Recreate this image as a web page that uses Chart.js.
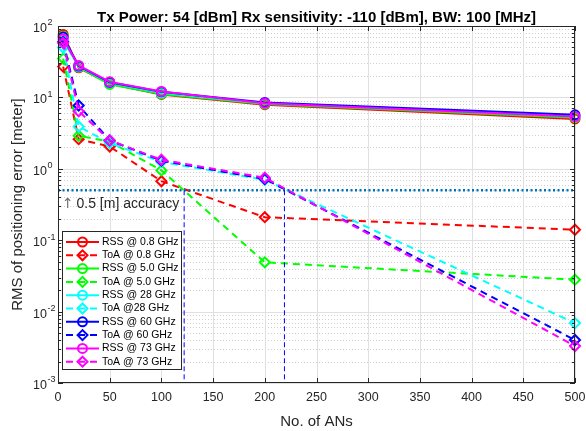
<!DOCTYPE html>
<html><head><meta charset="utf-8">
<script src="https://cdn.jsdelivr.net/npm/chart.js@4.4.1/dist/chart.umd.min.js"></script>
<style>html,body{margin:0;padding:0;background:#fff;}</style>
</head><body>
<canvas id="c" width="586" height="431"></canvas>
<script>
// ---- data ----
const nodes = [5, 20, 50, 100, 200, 500];
const rss08 = [76, 26, 15.5, 11.0, 7.9, 5.0];
const toa08 = [27, 2.6, 2.05, 0.67, 0.21, 0.14];
const rss50 = [72, 26.5, 15.2, 11.2, 8.1, 5.2];
const toa50 = [35, 2.9, 2.4, 0.95, 0.049, 0.028];
const rss28 = [62, 27, 16, 11.6, 8.3, 5.4];
const toa28 = [50, 3.9, 2.3, 1.25, 0.70, 0.0069];
const rss60 = [70, 27.5, 16.3, 12.0, 8.5, 5.7];
const toa60 = [60, 7.7, 2.5, 1.30, 0.72, 0.0040];
const rss73 = [66, 28, 16.5, 12.1, 8.3, 5.4];
const toa73 = [58, 6.4, 2.5, 1.34, 0.75, 0.0033];
const seriesLabels = ['RSS @ 0.8 GHz','ToA @ 0.8 GHz','RSS @ 5.0 GHz','ToA @ 5.0 GHz','RSS @ 28 GHz','ToA @28 GHz','RSS @ 60 GHz','ToA @ 60 GHz','RSS @ 73 GHz','ToA @ 73 GHz'];
const accuracyLevel = 0.5;
const crossX = [122, 219];
const xTicks = [0,50,100,150,200,250,300,350,400,450,500];
const yExponents = [-3,-2,-1,0,1,2];
const titleText = 'Tx Power: 54 [dBm] Rx sensitivity: -110 [dBm], BW: 100 [MHz]';
const xTitle = 'No. of ANs';
const yTitle = 'RMS of positioning error [meter]';
const noteText = '0.5 [m] accuracy';

const colors = ['#FF0000','#FF0000','#00FF00','#00FF00','#00FFFF','#00FFFF','#0000FF','#0000FF','#FF00FF','#FF00FF'];
const allSeries = [rss08,toa08,rss50,toa50,rss28,toa28,rss60,toa60,rss73,toa73];

const datasets = allSeries.map((arr, i) => {
  const solid = i % 2 === 0;
  return {
    label: seriesLabels[i],
    data: nodes.map((n, k) => ({x: n, y: arr[k]})),
    borderColor: colors[i], backgroundColor: 'rgba(0,0,0,0)',
    borderWidth: 2, borderDash: solid ? [] : [7, 5],
    pointStyle: solid ? 'circle' : 'rectRot', pointRadius: solid ? 4.5 : 5,
    pointBorderWidth: 2, pointBorderColor: colors[i], pointBackgroundColor: 'rgba(0,0,0,0)',
    fill: false, tension: 0, clip: false, order: 100 - i, inLegend: true
  };
});
datasets.push({
  label: 'acc', data: [{x: 0, y: accuracyLevel}, {x: 500, y: accuracyLevel}],
  borderColor: '#0072BD', borderWidth: 2.5, borderDash: [2, 2.5], pointRadius: 0, fill: false, order: 1
});
crossX.forEach(cx => datasets.push({
  label: 'v', data: [{x: cx, y: accuracyLevel}, {x: cx, y: 1e-3}],
  borderColor: '#0000FF', borderWidth: 1, borderDash: [5, 3], pointRadius: 0, fill: false, order: 0
}));

const AX = '#262626';
const FONT = '"Liberation Sans", Arial, Helvetica, sans-serif';

const axesPlugin = {
  id: 'matlabAxes',
  beforeDatasetsDraw(chart) {
    const {ctx, chartArea: {left, right, top, bottom}, scales: {x, y}} = chart;
    ctx.save();
    ctx.strokeStyle = '#cfcfcf'; ctx.lineWidth = 1; ctx.setLineDash([1, 2]);
    for (let e = -3; e < 2; e++) for (let k = 2; k <= 9; k++) {
      const py = Math.round(y.getPixelForValue(k * Math.pow(10, e))) + 0.5;
      ctx.beginPath(); ctx.moveTo(left, py); ctx.lineTo(right, py); ctx.stroke();
    }
    ctx.setLineDash([]);
    ctx.strokeStyle = '#e0e0e0';
    yExponents.forEach(e => {
      const py = Math.round(y.getPixelForValue(Math.pow(10, e))) + 0.5;
      ctx.beginPath(); ctx.moveTo(left, py); ctx.lineTo(right, py); ctx.stroke();
    });
    xTicks.forEach(v => {
      const px = Math.round(x.getPixelForValue(v)) + 0.5;
      ctx.beginPath(); ctx.moveTo(px, top); ctx.lineTo(px, bottom); ctx.stroke();
    });
    ctx.restore();
  },
  afterDatasetsDraw(chart) {
    const {ctx, chartArea: {left, right, top, bottom}, scales: {x, y}} = chart;
    ctx.save();
    ctx.strokeStyle = AX; ctx.lineWidth = 1; ctx.setLineDash([]);
    ctx.strokeRect(Math.round(left) + 0.5, Math.round(top) + 0.5, Math.round(right - left) - 1, Math.round(bottom - top) - 1);
    ctx.beginPath();
    xTicks.forEach(v => {
      const px = Math.round(x.getPixelForValue(v)) + 0.5;
      ctx.moveTo(px, bottom); ctx.lineTo(px, bottom - 5);
      ctx.moveTo(px, top); ctx.lineTo(px, top + 5);
    });
    for (let e = -3; e <= 2; e++) for (let k = 1; k <= 9; k++) {
      if (e === 2 && k > 1) break;
      const len = k === 1 ? 5 : 3;
      const py = Math.round(y.getPixelForValue(k * Math.pow(10, e))) + 0.5;
      ctx.moveTo(left, py); ctx.lineTo(left + len, py);
      ctx.moveTo(right, py); ctx.lineTo(right - len, py);
    }
    ctx.stroke();
    ctx.fillStyle = AX;
    ctx.font = '12.5px ' + FONT; ctx.textAlign = 'center'; ctx.textBaseline = 'middle';
    xTicks.forEach(v => ctx.fillText(String(v), x.getPixelForValue(v), bottom + 15));
    yExponents.forEach(e => {
      const py = y.getPixelForValue(Math.pow(10, e));
      ctx.font = '12.5px ' + FONT; ctx.textAlign = 'right'; ctx.textBaseline = 'middle';
      ctx.fillText('10', 47, py + 2.5);
      ctx.font = '9px ' + FONT; ctx.textAlign = 'left';
      ctx.fillText(String(e), 47.5, py - 3);
    });
    ctx.font = '15px ' + FONT; ctx.textAlign = 'center'; ctx.textBaseline = 'middle';
    ctx.fillText(xTitle, (left + right) / 2, 422);
    ctx.save(); ctx.translate(18, (top + bottom) / 2); ctx.rotate(-Math.PI / 2);
    ctx.fillText(yTitle, 0, 0); ctx.restore();
    ctx.fillStyle = '#000';
    ctx.font = 'bold 15px ' + FONT; ctx.textBaseline = 'alphabetic';
    ctx.fillText(titleText, (left + right) / 2, 21.5);
    // note with arrow
    const ny = y.getPixelForValue(accuracyLevel) + 17.5;
    ctx.textAlign = 'left';
    ctx.fillStyle = '#707070'; ctx.font = '14px "DejaVu Sans", sans-serif';
    ctx.fillText('\u2191', 62, ny);
    ctx.fillStyle = AX; ctx.font = '14px ' + FONT;
    ctx.fillText(noteText, 76.5, ny);
    // legend
    const items = chart.data.datasets.filter(d => d.inLegend);
    const bx = 62.5, by = 231.5, bw = 119, bh = 138;
    ctx.fillStyle = '#fff'; ctx.fillRect(bx, by, bw, bh);
    ctx.strokeStyle = AX; ctx.lineWidth = 1; ctx.strokeRect(bx, by, bw, bh);
    items.forEach((d, i) => {
      const cy = 242 + i * 13.3;
      ctx.strokeStyle = d.borderColor; ctx.lineWidth = 2; ctx.setLineDash(d.borderDash);
      ctx.beginPath(); ctx.moveTo(66, cy); ctx.lineTo(99, cy); ctx.stroke();
      ctx.setLineDash([]);
      ctx.fillStyle = 'rgba(0,0,0,0)';
      Chart.helpers.drawPoint(ctx, {pointStyle: d.pointStyle, rotation: 0, borderWidth: 2, radius: d.pointRadius}, 82.5, cy);
      ctx.fillStyle = '#000'; ctx.font = '10.5px ' + FONT; ctx.textAlign = 'left'; ctx.textBaseline = 'middle';
      ctx.fillText(d.label, 102, cy);
    });
    ctx.restore();
  }
};

new Chart(document.getElementById('c'), {
  type: 'line',
  data: {datasets},
  options: {
    responsive: false, animation: false, devicePixelRatio: 1,
    layout: {padding: {left: 58, right: 11, top: 26, bottom: 48}},
    scales: {
      x: {type: 'linear', min: 0, max: 500, display: false},
      y: {type: 'logarithmic', min: 1e-3, max: 1e2, display: false}
    },
    plugins: {legend: {display: false}, title: {display: false}, tooltip: {enabled: false}}
  },
  plugins: [axesPlugin]
});
</script>
</body></html>
